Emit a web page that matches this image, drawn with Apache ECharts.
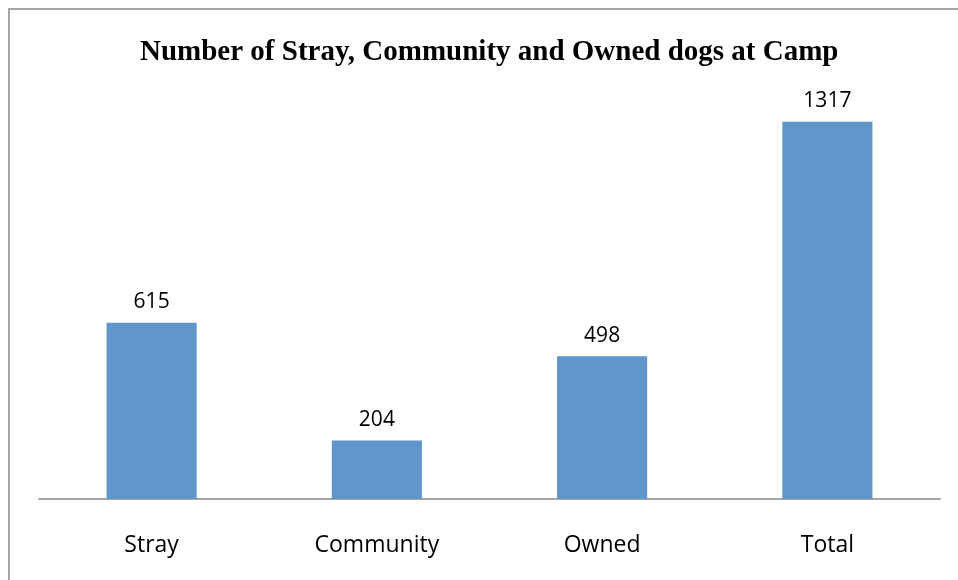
<!DOCTYPE html>
<html>
<head>
<meta charset="utf-8">
<script src="https://cdn.jsdelivr.net/npm/echarts@6/dist/echarts.min.js"></script>
<style>
  html, body { margin: 0; padding: 0; background: #fff; }
  #main { width: 958px; height: 580px; }
</style>
</head>
<body>
<div id="main"></div>
<script>
// categories and counts
var categories = ['Stray', 'Community', 'Owned', 'Total'];
var dogCounts = [615, 204, 498, 1317];
var chartTitle = 'Number of Stray, Community and Owned dogs at Camp';

var chart = echarts.init(document.getElementById('main'));

var option = {
  animation: false,
  backgroundColor: '#fff',
  title: {
    text: chartTitle,
    left: 135,
    top: 33,
    textStyle: {
      fontFamily: 'Liberation Serif',
      fontWeight: 'bold',
      fontSize: 29,
      color: '#000'
    }
  },
  graphic: [{
    type: 'rect',
    shape: { x: 9, y: 9, width: 1000, height: 1000 },
    style: { fill: 'none', stroke: '#a6a6a6', lineWidth: 2 },
    silent: true
  }],
  grid: {
    left: 39,
    right: 18,
    top: 98,
    bottom: 81
  },
  xAxis: {
    type: 'category',
    data: categories,
    axisLine: { lineStyle: { color: '#a6a6a6', width: 2 } },
    axisTick: { show: false },
    axisLabel: {
      margin: 35,
      fontFamily: 'Open Sans',
      fontSize: 23,
      color: '#000'
    }
  },
  yAxis: {
    type: 'value',
    min: 0,
    max: 1400,
    show: false,
    splitLine: { show: false }
  },
  series: [{
    type: 'bar',
    data: dogCounts,
    barWidth: '40%',
    itemStyle: { color: '#6096c9' },
    label: {
      show: true,
      position: 'top',
      distance: 10,
      fontFamily: 'Open Sans',
      fontSize: 21,
      color: '#000'
    }
  }]
};

chart.setOption(option);
</script>
</body>
</html>
